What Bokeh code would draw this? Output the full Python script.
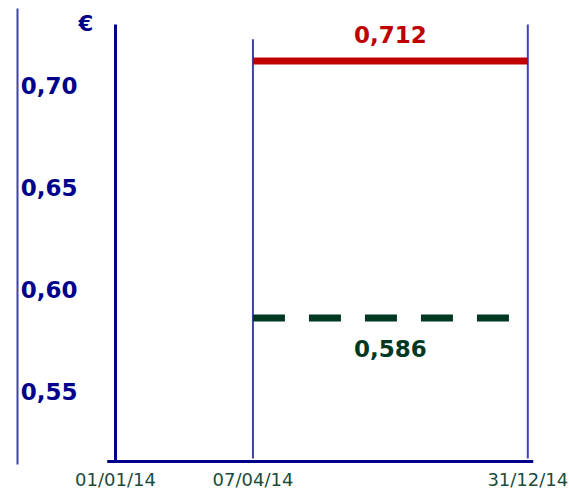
from bokeh.plotting import figure
from bokeh.models import FixedTicker, LinearAxis
from bokeh.core.properties import value
from bokeh.embed import file_html
from bokeh.resources import INLINE

# ---- data ----
x_pos = [0, 1, 3]                       # schematic positions of the dates
date_labels = ["01/01/14", "07/04/14", "31/12/14"]
y_ticks = [0.55, 0.60, 0.65, 0.70]
y_tick_labels = ["0,55", "0,60", "0,65", "0,70"]
red_value = 0.712
green_value = 0.586
unit_label = "€"

def fmt(v):
    return f"{v:.3f}".replace(".", ",")

# ---- frame / scale settings ----
X0, X1 = -0.2694, 3.0415
Y0, Y1 = 0.51410, 0.73774
AXIS_Y = 0.51557        # where the horizontal axis line sits
AXIS_TOP = 0.72992      # top of the vertical axis line
AXIS_X_START = -0.0604

DARK_BLUE = "#00008b"
THIN_BLUE = "#4040b0"
RED = "#c00000"
GREEN = "#003822"
XLAB = "#1b4b3b"

p = figure(width=569, height=492, x_range=(X0, X1), y_range=(Y0, Y1),
           output_backend="svg", toolbar_location=None,
           min_border_left=78, min_border_right=36, min_border_top=8, min_border_bottom=26)
p.background_fill_color = "white"
p.border_fill_color = "white"
p.outline_line_color = None
p.grid.visible = False

# x axis (labels only; line drawn below)
p.xaxis.ticker = FixedTicker(ticks=x_pos)
p.xaxis.major_label_overrides = {x: l for x, l in zip(x_pos, date_labels)}
p.xaxis.axis_line_color = None
p.xaxis.major_tick_out = 0
p.xaxis.major_tick_in = 0
p.xaxis.minor_tick_out = 0
p.xaxis.minor_tick_in = 0
p.xaxis.major_label_standoff = 4
p.xaxis.major_label_text_font = "DejaVu Sans"
p.xaxis.major_label_text_font_size = "18px"
p.xaxis.major_label_text_color = XLAB

# y axis (labels only)
p.yaxis.ticker = FixedTicker(ticks=y_ticks)
p.yaxis.major_label_overrides = {t: l for t, l in zip(y_ticks, y_tick_labels)}
p.yaxis.axis_line_color = None
p.yaxis.major_tick_out = 0
p.yaxis.major_tick_in = 0
p.yaxis.minor_tick_out = 0
p.yaxis.minor_tick_in = 0
p.yaxis.major_label_standoff = 1
p.yaxis.major_label_text_font = "DejaVu Sans"
p.yaxis.major_label_text_font_style = "bold"
p.yaxis.major_label_text_font_size = "23px"
p.yaxis.major_label_text_color = DARK_BLUE

# outer thin frame line on the left
outer = LinearAxis(ticker=FixedTicker(ticks=[]), axis_line_color=THIN_BLUE, axis_line_width=2,
                   major_tick_out=12, major_tick_in=0, minor_tick_out=0, minor_tick_in=0,
                   major_tick_line_color=None)
p.add_layout(outer, "left")

# axis lines
p.segment(x0=[AXIS_X_START], x1=[X1], y0=[AXIS_Y], y1=[AXIS_Y],
          line_color=DARK_BLUE, line_width=3)
p.segment(x0=[x_pos[0]], x1=[x_pos[0]], y0=[AXIS_Y], y1=[AXIS_TOP],
          line_color=DARK_BLUE, line_width=3)

# thin vertical date lines
p.segment(x0=[x_pos[1], x_pos[2]], x1=[x_pos[1], x_pos[2]],
          y0=[AXIS_Y + 0.0015, AXIS_Y + 0.0015], y1=[0.7226, AXIS_TOP],
          line_color=THIN_BLUE, line_width=2)

# price lines
p.line(x=[x_pos[1], x_pos[2]], y=[red_value, red_value], line_color=RED, line_width=7)
p.line(x=[x_pos[1], x_pos[2]], y=[green_value, green_value], line_color=GREEN,
       line_width=7, line_dash="32 24")

xm = (x_pos[1] + x_pos[2]) / 2
p.text(x=[xm], y=[red_value], text=[fmt(red_value)], text_align="center",
       text_baseline="middle", y_offset=-26, text_color=RED,
       text_font=value("DejaVu Sans"), text_font_style="bold", text_font_size="23px")
p.text(x=[xm], y=[green_value], text=[fmt(green_value)], text_align="center",
       text_baseline="middle", y_offset=31, text_color=GREEN,
       text_font=value("DejaVu Sans"), text_font_style="bold", text_font_size="23px")

# currency unit
p.text(x=[-0.218], y=[0.7304], text=[unit_label], text_align="center",
       text_baseline="middle", text_color=DARK_BLUE,
       text_font=value("DejaVu Sans"), text_font_style="bold", text_font_size="22px")

open("out.html", "w").write(file_html(p, INLINE))
